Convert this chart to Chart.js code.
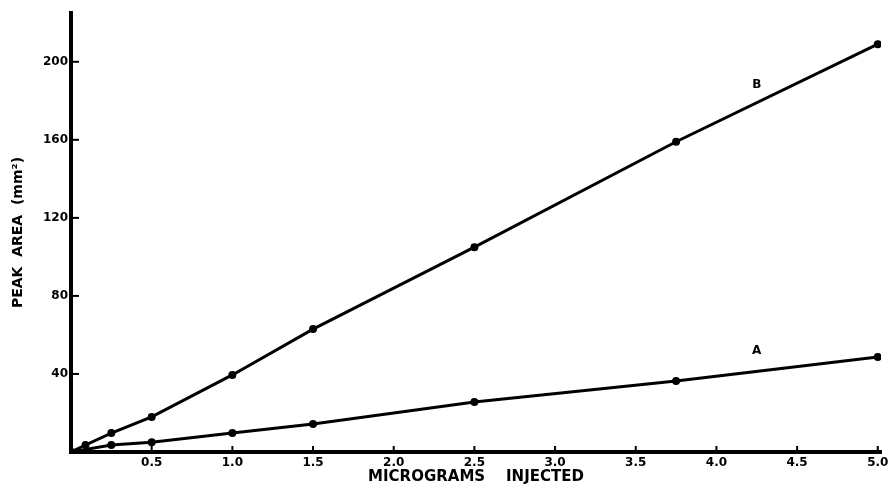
<!DOCTYPE html>
<html>
<head>
<meta charset="utf-8">
<script src="https://cdn.jsdelivr.net/npm/chart.js@4.4.1/dist/chart.umd.min.js"></script>
<style>
  html, body { margin: 0; padding: 0; background: #fff; }
  #wrap { width: 894px; height: 489px; }
</style>
</head>
<body>
<div id="wrap"><canvas id="peakChart"></canvas></div>
<script>
// micrograms injected vs peak area
const xB = [0, 0.09, 0.25, 0.5, 1.0, 1.5, 2.5, 3.75, 5.0];
const yB = [0, 3.6, 9.7, 18, 39.5, 63, 105, 159, 209];
const xA = [0, 0.25, 0.5, 1.0, 1.5, 2.5, 3.75, 5.0];
const yA = [0, 3.6, 5, 9.7, 14.4, 25.6, 36.4, 48.7];

// curve letters placed near the lines
const curveNames = ['B', 'A'];
const curveLabelX = [4.25, 4.25];
const curveLabelY = [188, 52];

const xTicks = [0.5, 1.0, 1.5, 2.0, 2.5, 3.0, 3.5, 4.0, 4.5, 5.0];
const yTicks = [40, 80, 120, 160, 200];

function pts(xs, ys) {
    return xs.map((x, i) => ({ x: x, y: ys[i] }));
}

const FONT = '"DejaVu Sans", Verdana, sans-serif';

// small tick marks pointing into the plot, plus the A/B letters
const insideTicks = {
    id: 'insideTicks',
    afterDatasetsDraw(chart) {
        const c = chart.ctx;
        const xs = chart.scales.x, ys = chart.scales.y;
        c.save();
        c.strokeStyle = '#000';
        c.lineWidth = 2;
        xTicks.forEach(v => {
            const px = xs.getPixelForValue(v);
            c.beginPath();
            c.moveTo(px, ys.bottom);
            c.lineTo(px, ys.bottom - 6);
            c.stroke();
        });
        yTicks.forEach(v => {
            const py = ys.getPixelForValue(v);
            c.beginPath();
            c.moveTo(xs.left, py);
            c.lineTo(xs.left + 8, py);
            c.stroke();
        });
        c.fillStyle = '#000';
        c.font = 'bold 12px ' + FONT;
        c.textAlign = 'center';
        c.textBaseline = 'middle';
        curveNames.forEach((t, i) => {
            c.fillText(t, xs.getPixelForValue(curveLabelX[i]), ys.getPixelForValue(curveLabelY[i]));
        });
        c.restore();
    }
};

new Chart(document.getElementById('peakChart'), {
    type: 'scatter',
    data: {
        datasets: [{
            label: 'B',
            data: pts(xB, yB),
            showLine: true,
            borderColor: '#000',
            backgroundColor: '#000',
            borderWidth: 3,
            pointRadius: 2.5,
            pointHoverRadius: 2.5
        }, {
            label: 'A',
            data: pts(xA, yA),
            showLine: true,
            borderColor: '#000',
            backgroundColor: '#000',
            borderWidth: 3,
            pointRadius: 2.5,
            pointHoverRadius: 2.5
        }]
    },
    options: {
        responsive: true,
        maintainAspectRatio: false,
        animation: false,
        layout: { padding: { top: 13, right: 13, left: 0, bottom: 0 } },
        plugins: {
            legend: { display: false },
            tooltip: { enabled: false }
        },
        scales: {
            x: {
                type: 'linear',
                min: 0,
                max: 5.02,
                afterFit(scale) { scale.height = 37; },
                border: { display: true, color: '#000', width: 4 },
                grid: { display: false, drawTicks: false },
                afterBuildTicks(scale) {
                    scale.ticks = xTicks.map(v => ({ value: v }));
                },
                ticks: {
                    color: '#000',
                    padding: 4,
                    font: { family: FONT, size: 12, weight: 'bold' },
                    callback: v => v.toFixed(1)
                },
                title: {
                    display: true,
                    text: 'MICROGRAMS    INJECTED',
                    color: '#000',
                    font: { family: FONT, size: 15, weight: 'bold' },
                    padding: { top: 0, bottom: 3 }
                }
            },
            y: {
                type: 'linear',
                min: 0,
                max: 225,
                afterFit(scale) { scale.width = 71; },
                border: { display: true, color: '#000', width: 4 },
                grid: { display: false, drawTicks: false },
                afterBuildTicks(scale) {
                    scale.ticks = yTicks.map(v => ({ value: v }));
                },
                ticks: {
                    color: '#000',
                    padding: 3,
                    font: { family: FONT, size: 12, weight: 'bold' }
                },
                title: {
                    display: true,
                    text: 'PEAK  AREA  (mm²)',
                    color: '#000',
                    font: { family: FONT, size: 14, weight: 'bold' },
                    padding: { top: 10, bottom: 0 }
                }
            }
        }
    },
    plugins: [insideTicks]
});
</script>
</body>
</html>
